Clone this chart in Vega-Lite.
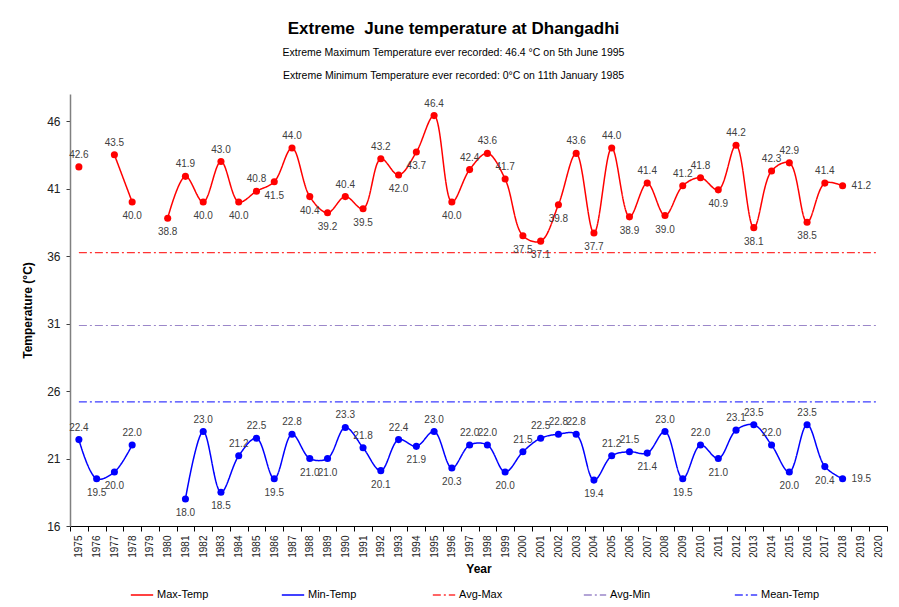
{
  "$schema": "https://vega.github.io/schema/vega-lite/v6.json",
  "width": 817,
  "height": 432,
  "autosize": {"type": "none"},
  "padding": {"left": 70, "top": 94, "right": 12, "bottom": 81},
  "background": "white",
  "config": {
    "view": {"stroke": null},
    "font": "Liberation Sans"
  },
  "title": {
    "text": "Extreme\u00a0 June temperature at Dhangadhi",
    "subtitle": ["Extreme Maximum Temperature ever recorded: 46.4 °C on 5th June 1995", "Extreme Minimum Temperature ever recorded: 0°C on 11th January 1985"],
    "fontSize": 17,
    "fontWeight": "bold",
    "color": "#000000",
    "subtitleFontSize": 10.5,
    "subtitleColor": "#000000",
    "subtitleLineHeight": 23,
    "subtitlePadding": 10,
    "anchor": "middle",
    "dx": -25,
    "offset": 12
  },
  "datasets": {
    "temps": [
      {"year": 1975, "Max-Temp": 42.6, "Min-Temp": 22.4},
      {"year": 1976, "Max-Temp": null, "Min-Temp": 19.5},
      {"year": 1977, "Max-Temp": 43.5, "Min-Temp": 20.0},
      {"year": 1978, "Max-Temp": 40.0, "Min-Temp": 22.0},
      {"year": 1979, "Max-Temp": null, "Min-Temp": null},
      {"year": 1980, "Max-Temp": 38.8, "Min-Temp": null},
      {"year": 1981, "Max-Temp": 41.9, "Min-Temp": 18.0},
      {"year": 1982, "Max-Temp": 40.0, "Min-Temp": 23.0},
      {"year": 1983, "Max-Temp": 43.0, "Min-Temp": 18.5},
      {"year": 1984, "Max-Temp": 40.0, "Min-Temp": 21.2},
      {"year": 1985, "Max-Temp": 40.8, "Min-Temp": 22.5},
      {"year": 1986, "Max-Temp": 41.5, "Min-Temp": 19.5},
      {"year": 1987, "Max-Temp": 44.0, "Min-Temp": 22.8},
      {"year": 1988, "Max-Temp": 40.4, "Min-Temp": 21.0},
      {"year": 1989, "Max-Temp": 39.2, "Min-Temp": 21.0},
      {"year": 1990, "Max-Temp": 40.4, "Min-Temp": 23.3},
      {"year": 1991, "Max-Temp": 39.5, "Min-Temp": 21.8},
      {"year": 1992, "Max-Temp": 43.2, "Min-Temp": 20.1},
      {"year": 1993, "Max-Temp": 42.0, "Min-Temp": 22.4},
      {"year": 1994, "Max-Temp": 43.7, "Min-Temp": 21.9},
      {"year": 1995, "Max-Temp": 46.4, "Min-Temp": 23.0},
      {"year": 1996, "Max-Temp": 40.0, "Min-Temp": 20.3},
      {"year": 1997, "Max-Temp": 42.4, "Min-Temp": 22.0},
      {"year": 1998, "Max-Temp": 43.6, "Min-Temp": 22.0},
      {"year": 1999, "Max-Temp": 41.7, "Min-Temp": 20.0},
      {"year": 2000, "Max-Temp": 37.5, "Min-Temp": 21.5},
      {"year": 2001, "Max-Temp": 37.1, "Min-Temp": 22.5},
      {"year": 2002, "Max-Temp": 39.8, "Min-Temp": 22.8},
      {"year": 2003, "Max-Temp": 43.6, "Min-Temp": 22.8},
      {"year": 2004, "Max-Temp": 37.7, "Min-Temp": 19.4},
      {"year": 2005, "Max-Temp": 44.0, "Min-Temp": 21.2},
      {"year": 2006, "Max-Temp": 38.9, "Min-Temp": 21.5},
      {"year": 2007, "Max-Temp": 41.4, "Min-Temp": 21.4},
      {"year": 2008, "Max-Temp": 39.0, "Min-Temp": 23.0},
      {"year": 2009, "Max-Temp": 41.2, "Min-Temp": 19.5},
      {"year": 2010, "Max-Temp": 41.8, "Min-Temp": 22.0},
      {"year": 2011, "Max-Temp": 40.9, "Min-Temp": 21.0},
      {"year": 2012, "Max-Temp": 44.2, "Min-Temp": 23.1},
      {"year": 2013, "Max-Temp": 38.1, "Min-Temp": 23.5},
      {"year": 2014, "Max-Temp": 42.3, "Min-Temp": 22.0},
      {"year": 2015, "Max-Temp": 42.9, "Min-Temp": 20.0},
      {"year": 2016, "Max-Temp": 38.5, "Min-Temp": 23.5},
      {"year": 2017, "Max-Temp": 41.4, "Min-Temp": 20.4},
      {"year": 2018, "Max-Temp": 41.2, "Min-Temp": 19.5}
    ],
    "refs": [
      {"series": "Avg-Max", "value": 36.25, "from": 1975, "to": 2020},
      {"series": "Avg-Min", "value": 30.85, "from": 1975, "to": 2020},
      {"series": "Mean-Temp", "value": 25.2, "from": 1975, "to": 2020}
    ]
  },
  "encoding": {
    "y": {
      "type": "quantitative",
      "scale": {"domain": [16, 48], "nice": false, "zero": false},
      "axis": {
        "values": [16, 21, 26, 31, 36, 41, 46],
        "title": "Temperature (°C)",
        "titleFontSize": 12,
        "titleFontWeight": "bold",
        "titleColor": "#000000",
        "titlePadding": 12,
        "labelFontSize": 12,
        "labelColor": "#202020",
        "labelPadding": 6,
        "domainColor": "#808080",
        "domainWidth": 1.5,
        "tickColor": "#404040",
        "tickSize": 4,
        "grid": false
      }
    }
  },
  "layer": [
    {
      "data": {"name": "refs"},
      "mark": {"type": "rule", "strokeWidth": 1.2},
      "encoding": {
        "x": {"field": "from", "type": "ordinal", "bandPosition": 0.5,
              "scale": {"type": "band", "paddingInner": 0, "paddingOuter": 0,
                        "domain": [1975,1976,1977,1978,1979,1980,1981,1982,1983,1984,1985,1986,1987,1988,1989,1990,1991,1992,1993,1994,1995,1996,1997,1998,1999,2000,2001,2002,2003,2004,2005,2006,2007,2008,2009,2010,2011,2012,2013,2014,2015,2016,2017,2018,2019,2020]},
              "axis": {"title": "Year", "titleFontSize": 12, "titleFontWeight": "bold", "titleColor": "#000000", "titlePadding": 6,
                       "labelAngle": 270, "labelFontSize": 10, "labelColor": "#202020", "labelPadding": 4,
                       "tickBand": "extent", "tickColor": "#000000", "tickSize": 5, "domainColor": "#000000", "grid": false}},
        "x2": {"field": "to"},
        "y": {"field": "value"},
        "color": {"field": "series", "type": "nominal"},
        "strokeDash": {"field": "series", "type": "nominal"}
      }
    },
    {
      "data": {"name": "temps"},
      "transform": [
        {"fold": ["Max-Temp", "Min-Temp"], "as": ["series", "temp"]},
        {"window": [{"op": "lag", "field": "temp", "as": "prev"}, {"op": "lead", "field": "temp", "as": "next"}],
         "groupby": ["series"], "sort": [{"field": "year"}]}
      ],
      "layer": [
        {
          "mark": {"type": "line", "interpolate": "catmull-rom", "strokeWidth": 1.5, "invalid": "break-paths-filter-domains"},
          "encoding": {
            "x": {"field": "year", "type": "ordinal", "bandPosition": 0.5},
            "y": {"field": "temp"},
            "color": {
              "field": "series", "type": "nominal",
              "scale": {"domain": ["Max-Temp", "Min-Temp", "Avg-Max", "Avg-Min", "Mean-Temp"],
                        "range": ["#ff0000", "#0000ff", "#ff3333", "#9b87c9", "#3d3dff"]},
              "legend": {"title": null, "orient": "none", "direction": "horizontal", "columns": 5,
                         "legendX": 60, "legendY": 489, "gridAlign": "all", "columnPadding": 62,
                         "symbolType": "stroke", "symbolSize": 500, "symbolStrokeWidth": 1.5,
                         "labelFontSize": 11, "labelColor": "#000000", "labelOffset": 3}
            },
            "strokeDash": {
              "field": "series", "type": "nominal",
              "scale": {"domain": ["Max-Temp", "Min-Temp", "Avg-Max", "Avg-Min", "Mean-Temp"],
                        "range": [[1, 0], [1, 0], [8, 3, 2, 3], [8, 3, 2, 3], [8, 3, 2, 3]]}
            }
          }
        },
        {
          "transform": [{"filter": "datum.temp != null"}],
          "mark": {"type": "point", "filled": true, "size": 50, "opacity": 1},
          "encoding": {
            "x": {"field": "year", "type": "ordinal", "bandPosition": 0.5},
            "y": {"field": "temp"},
            "color": {"field": "series", "type": "nominal"}
          }
        },
        {
          "transform": [{"filter": "datum.temp != null && datum.year != 2018 && datum.temp >= ((datum.prev == null ? datum.temp : datum.prev) + (datum.next == null ? datum.temp : datum.next)) / 2"}],
          "mark": {"type": "text", "fontSize": 10, "color": "#404040", "baseline": "bottom", "dy": -7},
          "encoding": {
            "x": {"field": "year", "type": "ordinal", "bandPosition": 0.5},
            "y": {"field": "temp"},
            "text": {"field": "temp", "type": "quantitative", "format": ".1f"}
          }
        },
        {
          "transform": [{"filter": "datum.temp != null && datum.year != 2018 && datum.temp < ((datum.prev == null ? datum.temp : datum.prev) + (datum.next == null ? datum.temp : datum.next)) / 2"}],
          "mark": {"type": "text", "fontSize": 10, "color": "#404040", "baseline": "top", "dy": 9},
          "encoding": {
            "x": {"field": "year", "type": "ordinal", "bandPosition": 0.5},
            "y": {"field": "temp"},
            "text": {"field": "temp", "type": "quantitative", "format": ".1f"}
          }
        },
        {
          "transform": [{"filter": "datum.temp != null && datum.year == 2018"}],
          "mark": {"type": "text", "fontSize": 10, "color": "#404040", "align": "left", "baseline": "middle", "dx": 9},
          "encoding": {
            "x": {"field": "year", "type": "ordinal", "bandPosition": 0.5},
            "y": {"field": "temp"},
            "text": {"field": "temp", "type": "quantitative", "format": ".1f"}
          }
        }
      ]
    }
  ]
}
